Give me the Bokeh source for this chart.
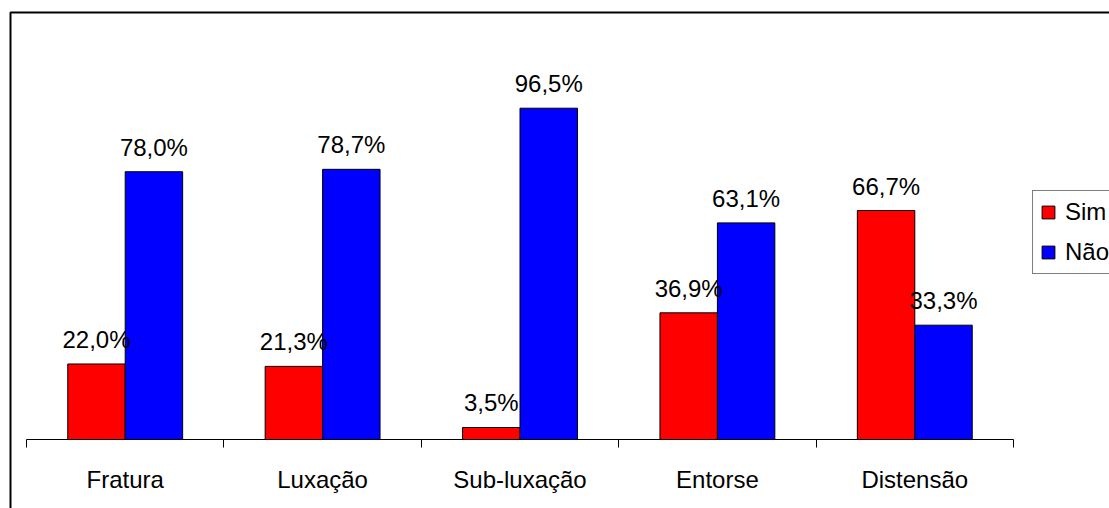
from bokeh.plotting import figure
from bokeh.models import (Range1d, FixedTicker, LinearAxis, ColumnDataSource,
                          LabelSet, Legend, LegendItem, BoxAnnotation)
from bokeh.transform import dodge
from bokeh.core.properties import value
from bokeh.embed import file_html
from bokeh.resources import INLINE

# Injury type and share of "Sim" / "Não" answers (%)
categories = ["Fratura", "Luxação", "Sub-luxação", "Entorse", "Distensão"]
sim = [22.0, 21.3, 3.5, 36.9, 66.7]
nao = [78.0, 78.7, 96.5, 63.1, 33.3]
series_names = ["Sim", "Não"]
series_colors = ["#FF0000", "#0000FF"]

FONT = "Liberation Sans"
W, H = 1109, 508

# plot-area geometry in pixels (the frame covers the whole canvas)
AXIS_LEFT, AXIS_RIGHT, AXIS_Y = 26, 1013, 439
PX_PER_CAT = (AXIS_RIGHT - AXIS_LEFT) / len(categories)
PX_PER_PCT = 3.433


def pct(v):
    return f"{v:.1f}".replace(".", ",") + "%"


positions = [i + 0.5 for i in range(len(categories))]
src = ColumnDataSource(dict(
    pos=positions,
    sim=sim,
    nao=nao,
    sim_lbl=[pct(v) for v in sim],
    nao_lbl=[pct(v) for v in nao],
))

x_range = Range1d(-AXIS_LEFT / PX_PER_CAT, (W - AXIS_LEFT) / PX_PER_CAT)
y_range = Range1d(-(H - AXIS_Y) / PX_PER_PCT, AXIS_Y / PX_PER_PCT)

p = figure(width=W, height=H, x_range=x_range, y_range=y_range,
           output_backend="svg", toolbar_location=None,
           x_axis_location=None, y_axis_location=None,
           min_border=0)
p.outline_line_color = None
p.xgrid.grid_line_color = None
p.ygrid.grid_line_color = None
p.background_fill_color = "white"
p.border_fill_color = "white"

# category axis at y = 0: labels at centres, tick marks at category boundaries
ticker = FixedTicker(ticks=positions, minor_ticks=list(range(len(categories) + 1)))
xaxis = LinearAxis(ticker=ticker, fixed_location=0, bounds=(0, len(categories)),
                   major_label_overrides={pos: c for pos, c in zip(positions, categories)})
xaxis.axis_line_color = "black"
xaxis.axis_line_width = 1
xaxis.major_tick_line_color = None
xaxis.major_tick_out = 8
xaxis.major_tick_in = 0
xaxis.minor_tick_line_color = "black"
xaxis.minor_tick_out = 8
xaxis.minor_tick_in = 0
xaxis.major_label_standoff = 18
xaxis.major_label_text_font = FONT
xaxis.major_label_text_font_size = "24px"
xaxis.major_label_text_color = "black"
p.add_layout(xaxis, "below")

bw = 0.291
r_sim = p.vbar(x=dodge("pos", -bw / 2), top="sim", width=bw, bottom=0, source=src,
               fill_color=series_colors[0], line_color="black", line_width=1)
r_nao = p.vbar(x=dodge("pos", bw / 2), top="nao", width=bw, bottom=0, source=src,
               fill_color=series_colors[1], line_color="black", line_width=1)

for off, col in ((-bw / 2, "sim"), (bw / 2, "nao")):
    p.add_layout(LabelSet(x=dodge("pos", off), y=col, text=col + "_lbl", source=src,
                          y_offset=16, text_align="center", text_baseline="alphabetic",
                          text_font=value(FONT), text_font_size="24px",
                          text_color="black"))

legend = Legend(items=[LegendItem(label=series_names[0], renderers=[r_sim]),
                       LegendItem(label=series_names[1], renderers=[r_nao])],
                location=(1032, H - 274), orientation="vertical")
legend.border_line_color = "black"
legend.border_line_width = 1
legend.background_fill_color = "white"
legend.background_fill_alpha = 1
legend.label_text_font = FONT
legend.label_text_font_size = "24px"
legend.label_text_color = "black"
legend.glyph_width = 16
legend.glyph_height = 16
legend.label_height = 27
legend.label_width = 120
legend.label_standoff = 9
legend.padding = 7
legend.spacing = 12
legend.margin = 0
p.add_layout(legend, "center")

# chart area border
p.add_layout(BoxAnnotation(left=10, right=W + 200, top=12, bottom=H + 200,
                           left_units="canvas", right_units="canvas",
                           top_units="canvas", bottom_units="canvas",
                           fill_alpha=0, line_color="black", line_width=2,
                           line_alpha=1))

open("out.html", "w").write(file_html(p, INLINE))
